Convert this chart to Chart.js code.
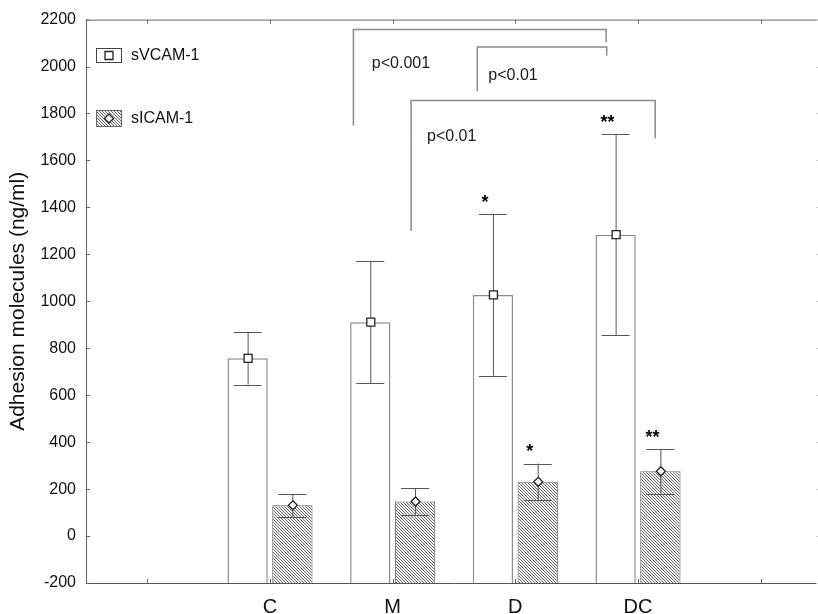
<!DOCTYPE html>
<html>
<head>
<meta charset="utf-8">
<script src="https://cdn.jsdelivr.net/npm/chart.js@4.4.0/dist/chart.umd.min.js"></script>
<style>
  html, body { margin: 0; padding: 0; background: #fff; overflow: hidden; }
</style>
</head>
<body>
<canvas id="myChart" width="822" height="614"></canvas>
<script>
// groups (empty slots at both ends, like the original axis)
var groups = ["", "C", "M", "D", "DC", ""];
var seriesNames = ["sVCAM-1", "sICAM-1"];
var vcamMean = [null, 757, 911, 1027, 1284, null];
var vcamErr  = [null, 112, 259, 344, 429, null];
var icamMean = [null, 131, 147, 231, 276, null];
var icamErr  = [null, 48, 56, 78, 95, null];
var vcamStars = ["", "", "", "*", "**", ""];
var icamStars = ["", "", "", "*", "**", ""];
var yTicks = [-200, 0, 200, 400, 600, 800, 1000, 1200, 1400, 1600, 1800, 2000, 2200];

// p-value brackets, in axis units (x = group index, y = ng/ml)
var bracketX1 = [1.68, 2.69, 2.15];
var bracketX2 = [3.74, 3.745, 4.14];
var bracketTop = [2158, 2083, 1855];
var bracketLeftEnd = [1748, 1896, 1300];
var bracketRightEnd = [2104, 2047, 1693];
var bracketText = ["p<0.001", "p<0.01", "p<0.01"];
var bracketTextX = [1.83, 2.78, 2.28];
var bracketTextY = [2011, 1961, 1700];

var fam = '"Liberation Sans", Arial, sans-serif';

function hatch() {
  var c = document.createElement('canvas');
  c.width = 3; c.height = 3;
  var g = c.getContext('2d');
  g.fillStyle = '#f2f2f2';
  g.fillRect(0, 0, 3, 3);
  g.fillStyle = '#6e6e6e';
  for (var i = 0; i < 3; i++) g.fillRect(i, i, 1, 1);
  return document.getElementById('myChart').getContext('2d').createPattern(c, 'repeat');
}
var hatchFill = hatch();

function marker(ctx, x, y, kind) {
  ctx.save();
  ctx.fillStyle = '#fff';
  ctx.strokeStyle = '#222';
  ctx.lineWidth = 1.3;
  ctx.beginPath();
  if (kind === 'square') {
    ctx.rect(x - 4, y - 4, 8, 8);
  } else {
    ctx.moveTo(x, y - 4.5); ctx.lineTo(x + 4.5, y); ctx.lineTo(x, y + 4.5); ctx.lineTo(x - 4.5, y); ctx.closePath();
  }
  ctx.fill(); ctx.stroke();
  ctx.restore();
}

var extras = {
  id: 'extras',
  afterDatasetsDraw: function(chart) {
    var ctx = chart.ctx, ys = chart.scales.y, xs = chart.scales.x, a = chart.chartArea;
    var sets = [[0, vcamMean, vcamErr, vcamStars, 'square'], [1, icamMean, icamErr, icamStars, 'diamond']];
    ctx.save();
    sets.forEach(function(s) {
      var meta = chart.getDatasetMeta(s[0]);
      s[1].forEach(function(v, i) {
        if (v === null) return;
        var bx = meta.data[i].x;
        var yHi = ys.getPixelForValue(v + s[2][i]);
        var yLo = ys.getPixelForValue(v - s[2][i]);
        var yM = ys.getPixelForValue(v);
        ctx.strokeStyle = '#555';
        ctx.lineWidth = 1;
        ctx.beginPath();
        ctx.moveTo(bx + 0.5, yHi); ctx.lineTo(bx + 0.5, yLo);
        ctx.moveTo(bx - 14, Math.round(yHi) + 0.5); ctx.lineTo(bx + 14, Math.round(yHi) + 0.5);
        ctx.moveTo(bx - 14, Math.round(yLo) + 0.5); ctx.lineTo(bx + 14, Math.round(yLo) + 0.5);
        ctx.stroke();
        marker(ctx, bx + 0.5, yM, s[4]);
        if (s[3][i]) {
          ctx.fillStyle = '#000';
          ctx.font = 'bold 18px ' + fam;
          ctx.textAlign = 'center';
          ctx.textBaseline = 'top';
          ctx.fillText(s[3][i], bx - 8, yHi - 20);
        }
      });
    });

    // brackets
    ctx.strokeStyle = '#8a8a8a';
    ctx.lineWidth = 1.5;
    for (var k = 0; k < bracketText.length; k++) {
      var x1 = xs.getPixelForValue(bracketX1[k]), x2 = xs.getPixelForValue(bracketX2[k]);
      var yt = ys.getPixelForValue(bracketTop[k]);
      ctx.beginPath();
      ctx.moveTo(x1, ys.getPixelForValue(bracketLeftEnd[k]));
      ctx.lineTo(x1, yt);
      ctx.lineTo(x2, yt);
      ctx.lineTo(x2, ys.getPixelForValue(bracketRightEnd[k]));
      ctx.stroke();
      ctx.fillStyle = '#1a1a1a';
      ctx.font = '16px ' + fam;
      ctx.textAlign = 'left';
      ctx.textBaseline = 'middle';
      ctx.fillText(bracketText[k], xs.getPixelForValue(bracketTextX[k]), ys.getPixelForValue(bracketTextY[k]));
    }

    // frame: top line, inner ticks
    ctx.strokeStyle = '#666';
    ctx.lineWidth = 1;
    ctx.beginPath();
    ctx.moveTo(a.left, a.top + 0.5); ctx.lineTo(a.right, a.top + 0.5);
    yTicks.forEach(function(t) {
      var py = Math.round(ys.getPixelForValue(t)) + 0.5;
      ctx.moveTo(a.left, py); ctx.lineTo(a.left + 4, py);
    });
    for (var j = 0; j < groups.length; j++) {
      var px = Math.round(xs.getPixelForValue(j)) + 0.5;
      ctx.moveTo(px, a.bottom); ctx.lineTo(px, a.bottom - 4);
      ctx.moveTo(px, a.top); ctx.lineTo(px, a.top + 4);
    }
    ctx.stroke();
    ctx.strokeStyle = '#ccc';
    ctx.beginPath();
    yTicks.forEach(function(t) {
      var py = Math.round(ys.getPixelForValue(t)) + 0.5;
      ctx.moveTo(a.right, py); ctx.lineTo(a.right - 6, py);
    });
    ctx.stroke();

    // legend inside the plot
    ctx.font = '16px ' + fam;
    ctx.textAlign = 'left';
    ctx.textBaseline = 'middle';
    ctx.lineWidth = 1;
    ctx.fillStyle = '#fff';
    ctx.strokeStyle = '#444';
    ctx.fillRect(96.5, 48.5, 25, 14);
    ctx.strokeRect(96.5, 48.5, 25, 14);
    marker(ctx, 109, 55.5, 'square');
    ctx.fillStyle = '#111';
    ctx.fillText(seriesNames[0], 131, 56);
    ctx.fillStyle = hatchFill;
    ctx.strokeStyle = '#666';
    ctx.fillRect(96.5, 110.5, 25, 16);
    ctx.strokeRect(96.5, 110.5, 25, 16);
    marker(ctx, 109, 118.5, 'diamond');
    ctx.fillStyle = '#111';
    ctx.fillText(seriesNames[1], 131, 119);
    ctx.restore();
  }
};

var ctx = document.getElementById('myChart').getContext('2d');
window.myChart = new Chart(ctx, {
  type: 'bar',
  data: {
    labels: groups,
    datasets: [{
      label: seriesNames[0],
      data: vcamMean,
      base: -200,
      backgroundColor: '#ffffff',
      borderColor: '#8c8c8c',
      borderWidth: 1.5,
      borderSkipped: 'bottom'
    }, {
      label: seriesNames[1],
      data: icamMean,
      base: -200,
      backgroundColor: hatchFill,
      borderColor: '#6a6a6a',
      borderWidth: 1,
      borderSkipped: 'bottom'
    }]
  },
  options: {
    responsive: false,
    animation: false,
    devicePixelRatio: 1,
    categoryPercentage: 0.73,
    barPercentage: 0.9,
    layout: { padding: { top: 15, right: 0, left: 0, bottom: 0 } },
    plugins: { legend: { display: false }, tooltip: { enabled: false } },
    scales: {
      x: {
        grid: { display: false, drawTicks: false },
        border: { display: true, color: '#555', width: 1 },
        ticks: { padding: 12, color: '#111', font: { family: fam, size: 20 } },
        afterFit: function(s) { s.height = 31; }
      },
      y: {
        min: -200,
        max: 2200,
        grid: { display: false, drawTicks: false },
        border: { display: true, color: '#666', width: 1 },
        afterBuildTicks: function(s) { s.ticks = yTicks.map(function(v) { return { value: v }; }); },
        ticks: {
          padding: 10, color: '#111', font: { family: fam, size: 16 },
          callback: function(v) { return String(v); }
        },
        title: {
          display: true,
          text: 'Adhesion molecules (ng/ml)',
          color: '#111',
          font: { family: fam, size: 21 },
          padding: { top: 6, bottom: 0 }
        },
        afterFit: function(s) { s.width = 86; }
      }
    }
  },
  plugins: [extras]
});
</script>
</body>
</html>
